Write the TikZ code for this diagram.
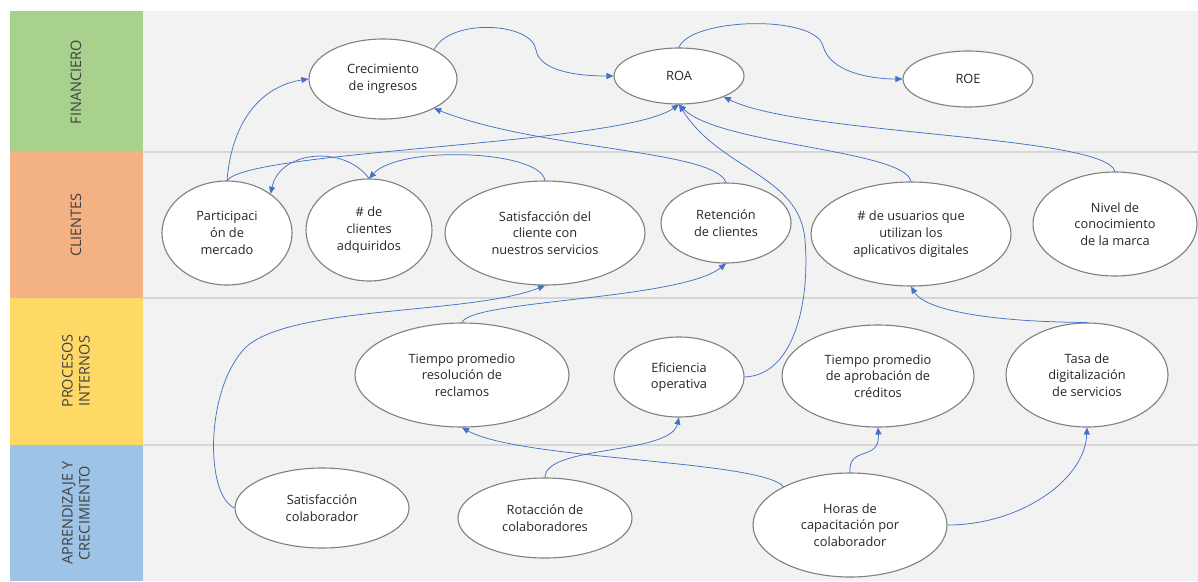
\documentclass[tikz,border=0pt]{standalone}
\usepackage{fontspec}
\setmainfont{Open Sans}
\usetikzlibrary{arrows.meta,shapes.geometric}
\definecolor{finband}{RGB}{169,209,142}
\definecolor{cliband}{RGB}{244,177,131}
\definecolor{proband}{RGB}{255,217,102}
\definecolor{apband}{RGB}{157,195,230}
\definecolor{panel}{RGB}{242,242,242}
\definecolor{rule}{RGB}{214,214,214}
\definecolor{rim}{RGB}{128,128,128}
\definecolor{ink}{RGB}{38,38,38}
\definecolor{link}{RGB}{68,114,196}
\tikzset{
  kpi/.style={ellipse,draw=rim,line width=1.1pt,fill=white,inner sep=0pt,align=center,
    text=ink,font=\fontsize{12.8}{16.7}\selectfont},
  bandlab/.style={rotate=90,align=center,text=black!75,font=\fontsize{14.5}{17}\selectfont},
  sep/.style={draw=rule,line width=1.2pt},
  arr/.style={-{Triangle[length=7pt,width=6pt]},draw=link,line width=0.75pt},
}
\begin{document}
\begin{tikzpicture}[x=1pt,y=-1pt]
\useasboundingbox (0,0) rectangle (1198,581);
\fill[white] (0,0) rectangle (1198,581);
\fill[panel] (143,11) rectangle (1198,581);
\fill[finband] (10,11) rectangle (143,152);
\fill[cliband] (10,152) rectangle (143,298);
\fill[proband] (10,298) rectangle (143,445);
\fill[apband] (10,445) rectangle (143,581);
\foreach \y in {152,298,445}{
  \draw[sep] (143,\y) -- (1198,\y);
}
\node[bandlab] (lfin) at (76,82) {FINANCIERO};
\node[bandlab] (lcli) at (76,225) {CLIENTES};
\node[bandlab] (lpro) at (76,371) {PROCESOS\\INTERNOS};
\node[bandlab] (lapr) at (76,513) {APRENDIZAJE Y\\CRECIMIENTO};

% financiero
\node[kpi,minimum width=148pt,minimum height=80pt] (crec) at (383,79) {Crecimiento\\de ingresos};
\node[kpi,minimum width=130pt,minimum height=56pt] (roa) at (679,76) {ROA};
\node[kpi,minimum width=130pt,minimum height=56pt] (roe) at (968,79) {ROE};
% clientes
\node[kpi,minimum width=130pt,minimum height=104pt] (part) at (227,233) {Participaci\\ón de\\mercado};
\node[kpi,minimum width=126pt,minimum height=102pt] (clie) at (369,230) {\# de\\clientes\\adquiridos};
\node[kpi,minimum width=200pt,minimum height=104pt] (sat) at (545,233) {Satisfacción del\\cliente con\\nuestros servicios};
\node[kpi,minimum width=130pt,minimum height=80pt] (ret) at (726,223) {Retención\\de clientes};
\node[kpi,minimum width=200pt,minimum height=104pt] (usu) at (911,234) {\# de usuarios que\\utilizan los\\aplicativos digitales};
\node[kpi,minimum width=164pt,minimum height=104pt] (niv) at (1115,224) {Nivel de\\conocimiento\\de la marca};
% procesos internos
\node[kpi,minimum width=214pt,minimum height=104pt] (tres) at (462,375) {Tiempo promedio\\resolución de\\reclamos};
\node[kpi,minimum width=130pt,minimum height=80pt] (eff) at (679,377) {Eficiencia\\operativa};
\node[kpi,minimum width=192pt,minimum height=102pt] (tcr) at (878,376) {Tiempo promedio\\de aprobación de\\créditos};
\node[kpi,minimum width=162pt,minimum height=104pt] (tasa) at (1087,375) {Tasa de\\digitalización\\de servicios};
% aprendizaje y crecimiento
\node[kpi,minimum width=174pt,minimum height=80pt] (scol) at (322,508) {Satisfacción\\colaborador};
\node[kpi,minimum width=174pt,minimum height=80pt] (rot) at (545,518) {Rotacción de\\colaboradores};
\node[kpi,minimum width=194pt,minimum height=104pt] (hor) at (850,525) {Horas de\\capacitación por\\colaborador};

\draw[arr] (crec.30) .. controls (450,18) and (532,22) .. (536,50) .. controls (540,72) and (580,76) .. (roa.west);
\draw[arr] (roa.north) .. controls (690,18) and (815,14) .. (823,46) .. controls (830,72) and (870,79) .. (roe.west);
\draw[arr] (part.north) .. controls (232,120) and (262,86) .. (crec.west);
\draw[arr] (part.north) .. controls (250,150) and (620,145) .. (roa.south);
\draw[arr] (clie.north) .. controls (345,145) and (280,150) .. (part.42);
\draw[arr] (sat.north) .. controls (540,150) and (400,145) .. (clie.north);
\draw[arr] (ret.north) .. controls (715,150) and (540,150) .. (crec.-30);
\draw[arr] (usu.north) .. controls (905,150) and (720,145) .. (roa.south);
\draw[arr] (niv.north) .. controls (1105,135) and (800,135) .. (roa.-25);
\draw[arr] (eff.east) .. controls (795,375) and (810,300) .. (805,240) .. controls (800,175) and (720,170) .. (roa.south);
\draw[arr] (tres.north) .. controls (470,300) and (680,300) .. (ret.south);
\draw[arr] (scol.west) .. controls (205,495) and (205,390) .. (245,348) .. controls (290,305) and (470,315) .. (sat.south);
\draw[arr] (tasa.north) .. controls (990,322) and (925,310) .. (usu.south);
\draw[arr] (hor.north) .. controls (848,445) and (880,462) .. (tcr.south);
\draw[arr] (hor.east) .. controls (1020,525) and (1085,480) .. (tasa.south);
\draw[arr] (hor.150) .. controls (760,460) and (520,460) .. (tres.south);
\draw[arr] (rot.north) .. controls (545,445) and (670,455) .. (eff.south);
\end{tikzpicture}
\end{document}
